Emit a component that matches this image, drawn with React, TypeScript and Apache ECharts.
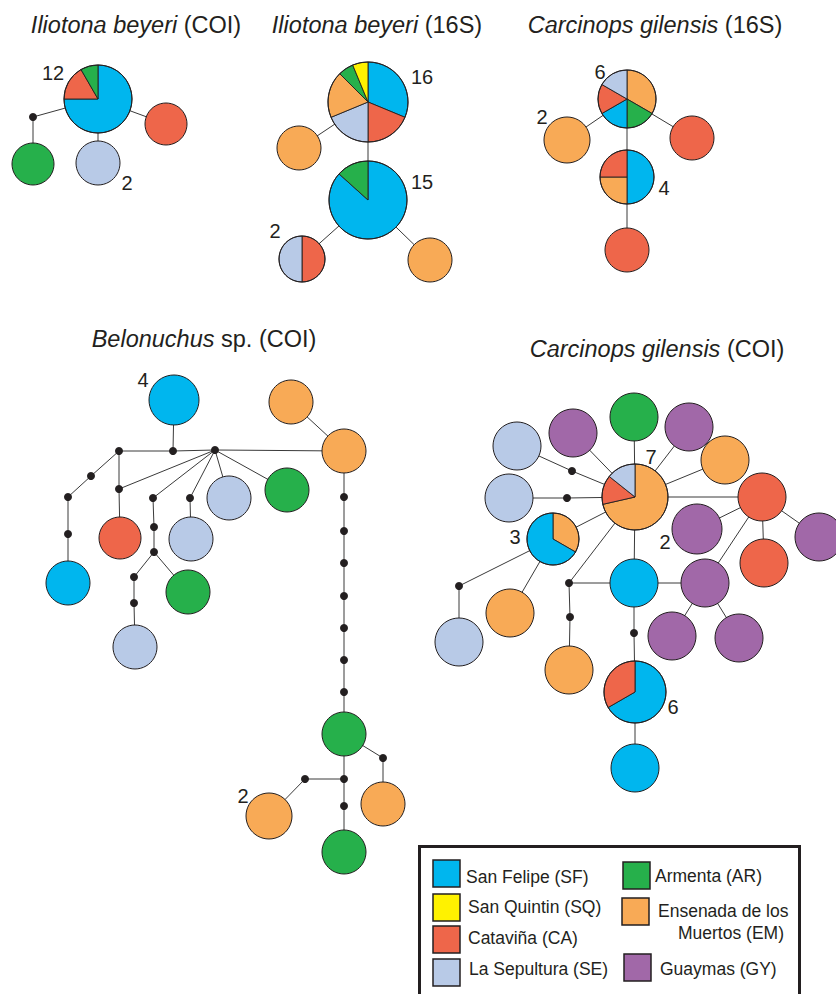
import React, { useEffect, useRef } from 'react';
import * as echarts from 'echarts';

type Comp = [string, number][];
type Hap = [string, Comp];

// Population colours
const POP_COLORS: Record<string, string> = {
  SF: '#00b6ee',
  SQ: '#fff200',
  CA: '#ee664a',
  SE: '#b8cae7',
  AR: '#26b04b',
  EM: '#f8aa56',
  GY: '#a168a8',
};

// ---------- Panel 1: Iliotona beyeri (COI) ----------
// haplotype compositions, clockwise from 12 o'clock ([] = median vector)
const p1Haps: Hap[] = [
  ['H1', [['SF', 9], ['CA', 2], ['AR', 1]]],
  ['H2', [['AR', 1]]],
  ['H3', [['SE', 2]]],
  ['H4', [['CA', 1]]],
  ['m1', []],
];
const p1Pos: Record<string, number[]> = {
  H1: [98, 99, 34], H2: [33, 164, 21], H3: [98, 163, 22], H4: [166, 124, 21], m1: [33, 117, 4],
};
const p1Lbl: Record<string, number[]> = { H1: [53, 73], H3: [127, 183] };
const p1Edges: [string, string][] = [['H1', 'm1'], ['m1', 'H2'], ['H1', 'H3'], ['H1', 'H4']];

// ---------- Panel 2: Iliotona beyeri (16S) ----------
const p2Haps: Hap[] = [
  ['H1', [['SF', 5], ['CA', 3], ['SE', 3], ['EM', 3], ['AR', 1], ['SQ', 1]]],
  ['H2', [['EM', 1]]],
  ['H3', [['SF', 13], ['AR', 2]]],
  ['H4', [['CA', 1], ['SE', 1]]],
  ['H5', [['EM', 1]]],
];
const p2Pos: Record<string, number[]> = {
  H1: [368, 102, 40], H2: [299, 148, 22], H3: [368, 200, 39], H4: [302, 259, 23], H5: [430, 260, 22],
};
const p2Lbl: Record<string, number[]> = { H1: [422, 77], H3: [422, 182], H4: [275, 231] };
const p2Edges: [string, string][] = [['H1', 'H2'], ['H1', 'H3'], ['H3', 'H4'], ['H3', 'H5']];

// ---------- Panel 3: Carcinops gilensis (16S) ----------
const p3Haps: Hap[] = [
  ['H1', [['EM', 2], ['AR', 1], ['SF', 1], ['CA', 1], ['SE', 1]]],
  ['H2', [['EM', 2]]],
  ['H3', [['CA', 1]]],
  ['H4', [['SF', 2], ['EM', 1], ['CA', 1]]],
  ['H5', [['CA', 1]]],
];
const p3Pos: Record<string, number[]> = {
  H1: [627, 99, 29], H2: [567, 140, 23], H3: [692, 138, 22], H4: [627, 177, 27], H5: [627, 250, 22],
};
const p3Lbl: Record<string, number[]> = { H1: [600, 72], H2: [542, 117], H4: [664, 188] };
const p3Edges: [string, string][] = [['H1', 'H2'], ['H1', 'H3'], ['H1', 'H4'], ['H4', 'H5']];

// ---------- Panel 4: Belonuchus sp. (COI) ----------
const p4Haps: Hap[] = [
  ['H1', [['SF', 4]]], ['H2', [['EM', 1]]], ['H3', [['EM', 1]]], ['H4', [['SF', 1]]],
  ['H5', [['CA', 1]]], ['H6', [['SE', 1]]], ['H7', [['AR', 1]]], ['H8', [['SE', 1]]],
  ['H9', [['SE', 1]]], ['H10', [['AR', 1]]], ['H11', [['AR', 1]]], ['H12', [['EM', 1]]],
  ['H13', [['EM', 2]]], ['H14', [['AR', 1]]],
  ['m1', []], ['m2', []], ['m3', []], ['m4', []], ['m5', []], ['m6', []], ['m7', []],
  ['m8', []], ['m9', []], ['m10', []], ['m11', []], ['m12', []], ['m13', []],
  ['n1', []], ['n2', []], ['n3', []], ['n4', []], ['n5', []], ['n6', []], ['n7', []],
  ['m14', []], ['m15', []], ['m16', []], ['m17', []],
];
const p4Pos: Record<string, number[]> = {
  H1: [174, 400, 25], H2: [291, 402, 22], H3: [344, 451, 22], H4: [68, 583, 22],
  H5: [120, 538, 21], H6: [135, 647, 22], H7: [188, 592, 22], H8: [191, 539, 22],
  H9: [229, 498, 22], H10: [287, 490, 22], H11: [344, 734, 22], H12: [383, 804, 22],
  H13: [269, 816, 23], H14: [344, 852, 22],
  m1: [119, 451, 4], m2: [173, 451, 4], m3: [215, 450, 4], m4: [91, 476, 4], m5: [68, 497, 4],
  m6: [68, 534, 4], m7: [119, 489, 4], m8: [153, 498, 4], m9: [154, 527, 4], m10: [154, 552, 4],
  m11: [134, 577, 4], m12: [134, 603, 4], m13: [190, 498, 4],
  n1: [344, 497, 4], n2: [344, 531, 4], n3: [344, 563, 4], n4: [344, 596, 4],
  n5: [344, 628, 4], n6: [344, 660, 4], n7: [344, 692, 4],
  m14: [383, 758, 4], m15: [344, 779, 4], m16: [305, 779, 4], m17: [344, 806, 4],
};
const p4Lbl: Record<string, number[]> = { H1: [143, 380], H13: [243, 796] };
const p4Edges: [string, string][] = [
  ['H1', 'm2'], ['m1', 'm2'], ['m2', 'm3'], ['m3', 'H3'], ['H2', 'H3'],
  ['m1', 'm4'], ['m4', 'm5'], ['m5', 'm6'], ['m6', 'H4'],
  ['m1', 'm7'], ['m7', 'H5'], ['m3', 'm7'],
  ['m3', 'm8'], ['m8', 'm9'], ['m9', 'm10'], ['m10', 'm11'], ['m11', 'm12'], ['m12', 'H6'],
  ['m10', 'H7'], ['m3', 'm13'], ['m13', 'H8'], ['m3', 'H9'], ['m3', 'H10'],
  ['H3', 'n1'], ['n1', 'n2'], ['n2', 'n3'], ['n3', 'n4'], ['n4', 'n5'], ['n5', 'n6'], ['n6', 'n7'],
  ['n7', 'H11'], ['H11', 'm14'], ['m14', 'H12'], ['H11', 'm15'], ['m15', 'm16'], ['m16', 'H13'],
  ['m15', 'm17'], ['m17', 'H14'],
];

// ---------- Panel 5: Carcinops gilensis (COI) ----------
const p5Haps: Hap[] = [
  ['H1', [['EM', 5], ['CA', 1], ['SE', 1]]],
  ['H2', [['AR', 1]]], ['H3', [['GY', 1]]], ['H4', [['GY', 1]]], ['H5', [['EM', 1]]],
  ['H6', [['CA', 1]]], ['H7', [['GY', 1]]], ['H8', [['CA', 1]]], ['H9', [['GY', 2]]],
  ['H10', [['SE', 1]]], ['H11', [['SE', 1]]],
  ['H12', [['EM', 1], ['SF', 2]]],
  ['H13', [['SE', 1]]], ['H14', [['EM', 1]]], ['H15', [['EM', 1]]], ['H16', [['SF', 1]]],
  ['H17', [['GY', 1]]], ['H18', [['GY', 1]]], ['H19', [['GY', 1]]],
  ['H20', [['SF', 4], ['CA', 2]]],
  ['H21', [['SF', 1]]],
  ['m1', []], ['m2', []], ['m3', []], ['m4', []], ['m5', []], ['m6', []],
];
const p5Pos: Record<string, number[]> = {
  H1: [635, 497, 33], H2: [634, 417, 24], H3: [573, 433, 24], H4: [689, 427, 24],
  H5: [725, 460, 24], H6: [762, 497, 24], H7: [819, 537, 24], H8: [764, 563, 24],
  H9: [697, 529, 25], H10: [517, 446, 24], H11: [509, 498, 24], H12: [553, 539, 26],
  H13: [459, 642, 24], H14: [510, 613, 24], H15: [569, 670, 24], H16: [634, 583, 24],
  H17: [705, 583, 24], H18: [672, 636, 24], H19: [739, 638, 24], H20: [635, 692, 31],
  H21: [635, 768, 24],
  m1: [572, 471, 4], m2: [567, 498, 4], m3: [459, 586, 4], m4: [569, 583, 4],
  m5: [570, 617, 4], m6: [634, 633, 4],
};
const p5Lbl: Record<string, number[]> = { H1: [651, 457], H9: [665, 542], H12: [515, 537], H20: [673, 707] };
const p5Edges: [string, string][] = [
  ['H1', 'H2'], ['H1', 'H3'], ['H1', 'H4'], ['H1', 'H5'], ['H1', 'H6'],
  ['H1', 'm1'], ['m1', 'H10'], ['H1', 'm2'], ['m2', 'H11'], ['H1', 'H12'],
  ['H1', 'm4'], ['H1', 'H16'],
  ['H6', 'H9'], ['H6', 'H7'], ['H6', 'H8'], ['H6', 'H17'],
  ['H12', 'm3'], ['m3', 'H13'], ['H12', 'H14'],
  ['m4', 'H16'], ['m4', 'm5'], ['m5', 'H15'],
  ['H16', 'H17'], ['H17', 'H18'], ['H17', 'H19'],
  ['H16', 'm6'], ['m6', 'H20'], ['H20', 'H21'],
];

// Titles: italic name, plain marker
const TITLE_NAMES = ['Iliotona beyeri', 'Iliotona beyeri', 'Carcinops gilensis', 'Belonuchus', 'Carcinops gilensis'];
const TITLE_MARKERS = ['(COI)', '(16S)', '(16S)', 'sp. (COI)', '(COI)'];

// Legend
const LEGEND_CODES = ['SF', 'SQ', 'CA', 'SE', 'AR', 'EM', 'GY'];
const LEGEND_LABELS = [
  ['San Felipe (SF)'], ['San Quintin (SQ)'], ['Cataviña (CA)'], ['La Sepultura (SE)'],
  ['Armenta (AR)'], ['Ensenada de los', 'Muertos (EM)'], ['Guaymas (GY)'],
];

const PANELS = [
  { haps: p1Haps, pos: p1Pos, lbl: p1Lbl, edges: p1Edges },
  { haps: p2Haps, pos: p2Pos, lbl: p2Lbl, edges: p2Edges },
  { haps: p3Haps, pos: p3Pos, lbl: p3Lbl, edges: p3Edges },
  { haps: p4Haps, pos: p4Pos, lbl: p4Lbl, edges: p4Edges },
  { haps: p5Haps, pos: p5Pos, lbl: p5Lbl, edges: p5Edges },
];

const FONT = 'Arial, "Liberation Sans", Helvetica, sans-serif';
const INK = '#231f20';

export default function App() {
  const ref = useRef<HTMLDivElement>(null);

  useEffect(() => {
    if (!ref.current) return;
    const chart = echarts.init(ref.current, undefined, { renderer: 'svg' });

    const nodeRows: number[][] = [];
    const nodeComps: Comp[] = [];
    const nodeLabels: ({ text: string; x: number; y: number } | null)[] = [];
    const edgeRows: number[][] = [];

    PANELS.forEach((p) => {
      p.haps.forEach(([id, comp]) => {
        const [x, y, r] = p.pos[id];
        nodeRows.push([x, y, r]);
        nodeComps.push(comp);
        const total = comp.reduce((s, c) => s + c[1], 0);
        const lp = p.lbl[id];
        nodeLabels.push(lp && total > 1 ? { text: String(total), x: lp[0], y: lp[1] } : null);
      });
      p.edges.forEach(([a, b]) => {
        const pa = p.pos[a];
        const pb = p.pos[b];
        edgeRows.push([pa[0], pa[1], pb[0], pb[1]]);
      });
    });

    const renderEdge = (params: any, api: any) => {
      const s = api.coord([api.value(0), api.value(1)]);
      const e = api.coord([api.value(2), api.value(3)]);
      return {
        type: 'line',
        shape: { x1: s[0], y1: s[1], x2: e[0], y2: e[1] },
        style: { stroke: '#3a3a3a', lineWidth: 1 },
      };
    };

    const renderNode = (params: any, api: any) => {
      const i = params.dataIndex;
      const c = api.coord([api.value(0), api.value(1)]);
      const r = api.size([api.value(2), 0])[0];
      const comp = nodeComps[i];
      const children: any[] = [];
      if (comp.length === 0) {
        children.push({ type: 'circle', shape: { cx: c[0], cy: c[1], r }, style: { fill: INK } });
      } else if (comp.length === 1) {
        children.push({
          type: 'circle',
          shape: { cx: c[0], cy: c[1], r },
          style: { fill: POP_COLORS[comp[0][0]], stroke: INK, lineWidth: 1 },
        });
      } else {
        const total = comp.reduce((s, cc) => s + cc[1], 0);
        let acc = 0;
        comp.forEach(([pop, n]) => {
          const a0 = -Math.PI / 2 + (2 * Math.PI * acc) / total;
          acc += n;
          const a1 = -Math.PI / 2 + (2 * Math.PI * acc) / total;
          children.push({
            type: 'sector',
            shape: { cx: c[0], cy: c[1], r, r0: 0, startAngle: a0, endAngle: a1, clockwise: true },
            style: { fill: POP_COLORS[pop], stroke: INK, lineWidth: 0.9 },
          });
        });
        children.push({
          type: 'circle',
          shape: { cx: c[0], cy: c[1], r },
          style: { fill: 'none', stroke: INK, lineWidth: 1 },
        });
      }
      const lb = nodeLabels[i];
      if (lb) {
        const lc = api.coord([lb.x, lb.y]);
        children.push({
          type: 'text',
          style: {
            text: lb.text, x: lc[0], y: lc[1], fill: INK,
            font: `20px ${FONT}`, textAlign: 'center', textVerticalAlign: 'middle',
          },
        });
      }
      return { type: 'group', children };
    };

    const titlePos = [[136, 25], [377, 25], [655, 25], [204, 339], [657, 349]];
    const titles = TITLE_NAMES.map((name, k) => ({
      type: 'text',
      x: titlePos[k][0],
      y: titlePos[k][1],
      style: {
        text: `{i|${name}} ${TITLE_MARKERS[k]}`,
        fill: INK,
        fontSize: 23.5,
        fontFamily: FONT,
        textAlign: 'center',
        textVerticalAlign: 'middle',
        rich: { i: { fontStyle: 'italic', fontSize: 23.5, fontFamily: FONT, fill: INK } },
      },
    }));

    const swatchPos = [[433, 860], [433, 894], [433, 926], [433, 959], [623, 862], [622, 898], [624, 954]];
    const textPos = [
      [[466, 877]], [[468, 907]], [[468, 938]], [[469, 969]],
      [[655, 876]], [[658, 911], [678, 933]], [[660, 969]],
    ];
    const legend: any[] = [
      {
        type: 'rect',
        shape: { x: 419.5, y: 846.5, width: 380, height: 160 },
        style: { fill: '#fff', stroke: INK, lineWidth: 3 },
        z: 10,
      },
    ];
    LEGEND_CODES.forEach((code, k) => {
      legend.push({
        type: 'rect',
        shape: { x: swatchPos[k][0], y: swatchPos[k][1], width: 27, height: 27 },
        style: { fill: POP_COLORS[code], stroke: INK, lineWidth: 1.5 },
        z: 11,
      });
      LEGEND_LABELS[k].forEach((line, j) => {
        legend.push({
          type: 'text',
          x: textPos[k][j][0],
          y: textPos[k][j][1],
          z: 11,
          style: {
            text: line, fill: INK, fontSize: 17.5, fontFamily: FONT,
            textAlign: 'left', textVerticalAlign: 'middle',
          },
        });
      });
    });

    chart.setOption({
      animation: false,
      backgroundColor: '#ffffff',
      grid: { left: 0, top: 0, right: 0, bottom: 0, containLabel: false },
      xAxis: { type: 'value', min: 0, max: 836, show: false },
      yAxis: { type: 'value', min: 0, max: 994, inverse: true, show: false },
      series: [
        {
          type: 'custom', coordinateSystem: 'cartesian2d', clip: false, silent: true, z: 1,
          encode: { x: [0, 2], y: [1, 3] },
          data: edgeRows, renderItem: renderEdge,
        },
        {
          type: 'custom', coordinateSystem: 'cartesian2d', clip: false, silent: true, z: 2,
          encode: { x: 0, y: 1 },
          data: nodeRows, renderItem: renderNode,
        },
      ],
      graphic: [...titles, ...legend],
    });

    return () => chart.dispose();
  }, []);

  return (
    <div
      ref={ref}
      style={{ position: 'absolute', left: 0, top: 0, width: 836, height: 994, background: '#fff' }}
    />
  );
}
